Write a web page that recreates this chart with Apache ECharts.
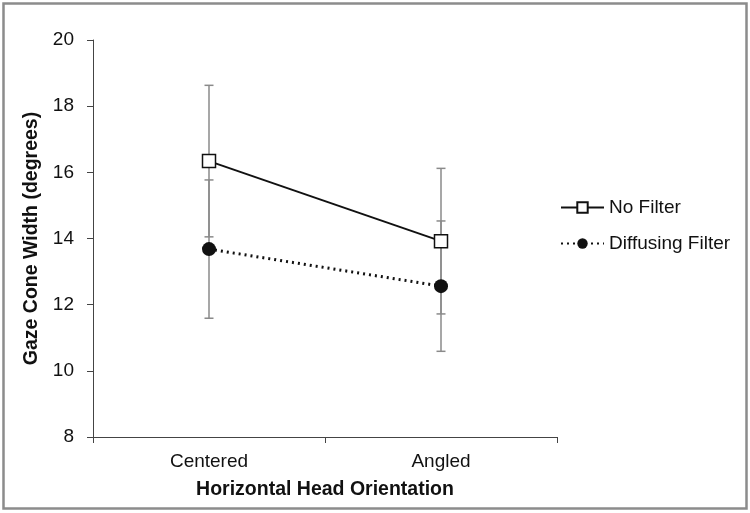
<!DOCTYPE html>
<html>
<head>
<meta charset="utf-8">
<script src="https://cdn.jsdelivr.net/npm/echarts@6/dist/echarts.min.js"></script>
<style>
html, body { margin: 0; padding: 0; background: #fff; }
#chart { width: 750px; height: 513px; }
</style>
</head>
<body>
<div id="chart"></div>
<script>
var categories = ["Centered", "Angled"];
var noFilter = [16.34, 13.92];
var noFilterErr = [2.29, 2.2];
var diffusing = [13.68, 12.56];
var diffusingErr = [2.09, 1.97];
var yTicks = [8, 10, 12, 14, 16, 18, 20];

var chart = echarts.init(document.getElementById("chart"));

// error bar data: [categoryIndex, low, high]
function errData(mean, err) {
	return mean.map(function (m, i) {
		return [i, m - err[i], m + err[i]];
	});
}

function renderErr(params, api) {
	var x = api.value(0);
	var lo = api.coord([x, api.value(1)]);
	var hi = api.coord([x, api.value(2)]);
	var cap = 4.5;
	var style = { stroke: "#8a8a8a", lineWidth: 1.5 };
	return {
		type: "group",
		children: [
			{ type: "line", shape: { x1: lo[0], y1: lo[1], x2: hi[0], y2: hi[1] }, style: style },
			{ type: "line", shape: { x1: lo[0] - cap, y1: lo[1], x2: lo[0] + cap, y2: lo[1] }, style: style },
			{ type: "line", shape: { x1: hi[0] - cap, y1: hi[1], x2: hi[0] + cap, y2: hi[1] }, style: style },
		],
	};
}

var option = {
	animation: false,
	textStyle: { fontFamily: "Liberation Sans, Arial, sans-serif" },
	graphic: [
		{
			type: "rect",
			shape: { x: 3.5, y: 3.5, width: 743, height: 505 },
			style: { fill: "none", stroke: "#8c8c8c", lineWidth: 2.5 },
		},
	],
	grid: {
		left: 93,
		right: 193,
		top: 40,
		bottom: 76,
	},
	legend: {
		orient: "vertical",
		left: 555,
		top: 193,
		itemWidth: 43,
		itemHeight: 13,
		itemGap: 17,
		textStyle: { fontSize: 19, color: "#111", fontFamily: "Liberation Sans, Arial, sans-serif" },
		data: ["No Filter", "Diffusing Filter"],
	},
	xAxis: {
		type: "category",
		data: categories,
		boundaryGap: true,
		name: "Horizontal Head Orientation",
		nameLocation: "middle",
		nameGap: 43,
		nameTextStyle: { fontSize: 19.5, fontWeight: "bold", color: "#111" },
		axisLine: { lineStyle: { color: "#444", width: 1 } },
		axisTick: { show: true, length: 6, lineStyle: { color: "#444" } },
		axisLabel: { fontSize: 19, color: "#111", margin: 15 },
	},
	yAxis: {
		type: "value",
		min: 8,
		max: 20,
		interval: 2,
		name: "Gaze Cone Width (degrees)",
		nameLocation: "middle",
		nameGap: 47,
		nameTextStyle: { fontSize: 19.5, fontWeight: "bold", color: "#111" },
		axisLine: { show: true, lineStyle: { color: "#444", width: 1 } },
		axisTick: { show: true, length: 6, lineStyle: { color: "#444" } },
		axisLabel: {
			fontSize: 19,
			color: "#111",
			margin: 19,
			formatter: function (v) {
				return yTicks.indexOf(v) >= 0 ? String(v) : "";
			},
		},
		splitLine: { show: false },
	},
	series: [
		{
			type: "custom",
			renderItem: renderErr,
			data: errData(noFilter, noFilterErr),
			z: 1,
			silent: true,
		},
		{
			type: "custom",
			renderItem: renderErr,
			data: errData(diffusing, diffusingErr),
			z: 1,
			silent: true,
		},
		{
			name: "No Filter",
			type: "line",
			data: noFilter,
			symbol: "rect",
			symbolSize: 13,
			lineStyle: { color: "#111", width: 2, type: "solid" },
			itemStyle: { color: "#fff", borderColor: "#111", borderWidth: 1.5 },
			z: 3,
		},
		{
			name: "Diffusing Filter",
			type: "line",
			data: diffusing,
			symbol: "circle",
			symbolSize: 14,
			lineStyle: { color: "#111", width: 3, type: [2, 4] },
			itemStyle: { color: "#111", borderColor: "#111", borderWidth: 0 },
			z: 3,
		},
	],
};
chart.setOption(option);
</script>
</body>
</html>
